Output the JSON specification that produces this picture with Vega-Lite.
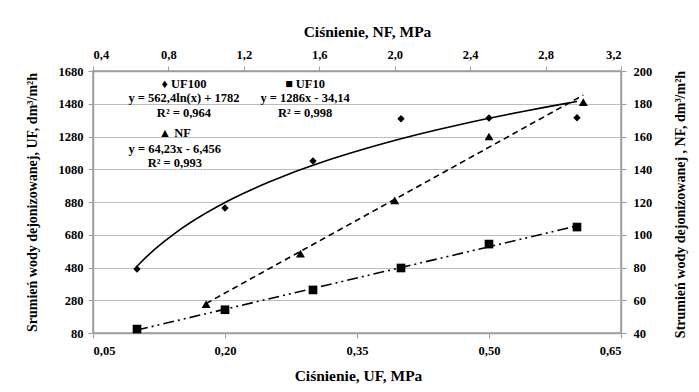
{
  "$schema": "https://vega.github.io/schema/vega-lite/v6.json",
  "width": 528,
  "height": 262,
  "autosize": "none",
  "padding": {"left": 93, "top": 71, "right": 78, "bottom": 59},
  "background": "white",
  "datasets": {
    "uf": [
      {"series": "UF100", "p": 0.10, "q": 471},
      {"series": "UF100", "p": 0.20, "q": 843},
      {"series": "UF100", "p": 0.30, "q": 1130},
      {"series": "UF100", "p": 0.40, "q": 1388},
      {"series": "UF100", "p": 0.50, "q": 1393},
      {"series": "UF100", "p": 0.60, "q": 1395},
      {"series": "UF10", "p": 0.10, "q": 104},
      {"series": "UF10", "p": 0.20, "q": 222},
      {"series": "UF10", "p": 0.30, "q": 343},
      {"series": "UF10", "p": 0.40, "q": 477},
      {"series": "UF10", "p": 0.50, "q": 623},
      {"series": "UF10", "p": 0.60, "q": 727}
    ],
    "nf": [
      {"p": 1.0, "q": 57.7},
      {"p": 1.5, "q": 88.5},
      {"p": 2.0, "q": 121},
      {"p": 2.5, "q": 160},
      {"p": 3.0, "q": 181}
    ],
    "notes": [
      {"label": "♦ UF100", "p": 0.1534, "q": 1601},
      {"label": "y = 562,4ln(x) + 1782", "p": 0.1534, "q": 1515},
      {"label": "R² = 0,964", "p": 0.1534, "q": 1424},
      {"label": "■ UF10", "p": 0.291, "q": 1601},
      {"label": "y = 1286x - 34,14", "p": 0.291, "q": 1515},
      {"label": "R² = 0,998", "p": 0.291, "q": 1424},
      {"label": "▲ NF", "p": 0.143, "q": 1301},
      {"label": "y = 64,23x - 6,456", "p": 0.143, "q": 1204},
      {"label": "R² = 0,993", "p": 0.143, "q": 1118}
    ]
  },
  "config": {
    "font": "Liberation Serif",
    "view": {"stroke": "#9e9e9e", "strokeWidth": 1.5},
    "axis": {
      "labelFont": "Liberation Serif",
      "labelFontWeight": "bold",
      "labelFontSize": 12.5,
      "labelColor": "#000000",
      "titleFont": "Liberation Serif",
      "titleFontWeight": "bold",
      "titleFontSize": 14,
      "titleColor": "#000000",
      "domainColor": "#9e9e9e",
      "domainWidth": 1.5,
      "tickColor": "#9e9e9e",
      "tickSize": 5,
      "gridColor": "#bdbdbd",
      "gridWidth": 1.2
    }
  },
  "layer": [
    {
      "encoding": {
        "x": {
          "field": "p", "type": "quantitative",
          "scale": {"domain": [0.05, 0.65], "nice": false, "zero": false},
          "axis": {
            "orient": "bottom",
            "values": [0.05, 0.2, 0.35, 0.5, 0.65],
            "labelExpr": "replace(format(datum.value, '.2f'), '.', ',')",
            "grid": false,
            "labelPadding": 6,
            "title": "Ciśnienie,  UF, MPa",
            "titleFontSize": 15.5,
            "titleX": 265, "titleY": 42,
            "titleAlign": "center", "titleBaseline": "middle", "titleAngle": 0
          }
        },
        "y": {
          "field": "q", "type": "quantitative",
          "scale": {"domain": [80, 1680], "nice": false, "zero": false},
          "axis": {
            "orient": "left",
            "values": [80, 280, 480, 680, 880, 1080, 1280, 1480, 1680],
            "format": "d",
            "grid": true,
            "labelPadding": 5,
            "title": "Srumień wody dejonizowanej, UF, dm³/m²h",
            "titleX": -61, "titleY": 131,
            "titleAngle": -90, "titleAlign": "center", "titleBaseline": "middle"
          }
        }
      },
      "layer": [
        {
          "data": {"name": "uf"},
          "transform": [
            {"filter": "datum.series === 'UF100'"},
            {"regression": "q", "on": "p", "method": "log", "extent": [0.1, 0.6]}
          ],
          "mark": {"type": "line", "color": "#000000", "strokeWidth": 1.6}
        },
        {
          "data": {"name": "uf"},
          "transform": [{"filter": "datum.series === 'UF100'"}],
          "mark": {"type": "point", "shape": "diamond", "filled": true, "color": "#000000", "size": 55, "opacity": 1}
        },
        {
          "data": {"name": "uf"},
          "transform": [
            {"filter": "datum.series === 'UF10'"},
            {"regression": "q", "on": "p", "method": "linear", "extent": [0.1, 0.6]}
          ],
          "mark": {"type": "line", "color": "#000000", "strokeWidth": 1.6, "strokeDash": [11, 4, 2, 4, 2, 4]}
        },
        {
          "data": {"name": "uf"},
          "transform": [{"filter": "datum.series === 'UF10'"}],
          "mark": {"type": "point", "shape": "square", "filled": true, "color": "#000000", "size": 75, "opacity": 1}
        },
        {
          "data": {"name": "notes"},
          "mark": {"type": "text", "font": "Liberation Serif", "fontWeight": "bold", "fontSize": 12.5, "color": "#000000", "align": "center", "baseline": "middle"},
          "encoding": {"text": {"field": "label", "type": "nominal"}}
        }
      ]
    },
    {
      "data": {"name": "nf"},
      "encoding": {
        "x": {
          "field": "p", "type": "quantitative",
          "scale": {"domain": [0.4, 3.2], "nice": false, "zero": false},
          "axis": {
            "orient": "top",
            "values": [0.4, 0.8, 1.2, 1.6, 2.0, 2.4, 2.8, 3.2],
            "labelExpr": "replace(format(datum.value, '.1f'), '.', ',')",
            "grid": false,
            "labelPadding": 5,
            "title": "Ciśnienie, NF, MPa",
            "titleFontSize": 15.5,
            "titleX": 274, "titleY": -40,
            "titleAlign": "center", "titleBaseline": "middle", "titleAngle": 0
          }
        },
        "y": {
          "field": "q", "type": "quantitative",
          "scale": {"domain": [40, 200], "nice": false, "zero": false},
          "axis": {
            "orient": "right",
            "values": [40, 60, 80, 100, 120, 140, 160, 180, 200],
            "format": "d",
            "grid": false,
            "labelPadding": 7,
            "title": "Strumień wody dejonizowanej , NF, dm³/m²h",
            "titleX": 59, "titleY": 133,
            "titleAngle": -90, "titleAlign": "center", "titleBaseline": "middle"
          }
        }
      },
      "layer": [
        {
          "transform": [
            {"regression": "q", "on": "p", "method": "linear", "extent": [1.0, 3.0]}
          ],
          "mark": {"type": "line", "color": "#000000", "strokeWidth": 1.6, "strokeDash": [6, 4]}
        },
        {
          "mark": {"type": "point", "shape": "triangle-up", "filled": true, "color": "#000000", "size": 80, "opacity": 1}
        }
      ]
    }
  ],
  "resolve": {"scale": {"x": "independent", "y": "independent"}}
}
